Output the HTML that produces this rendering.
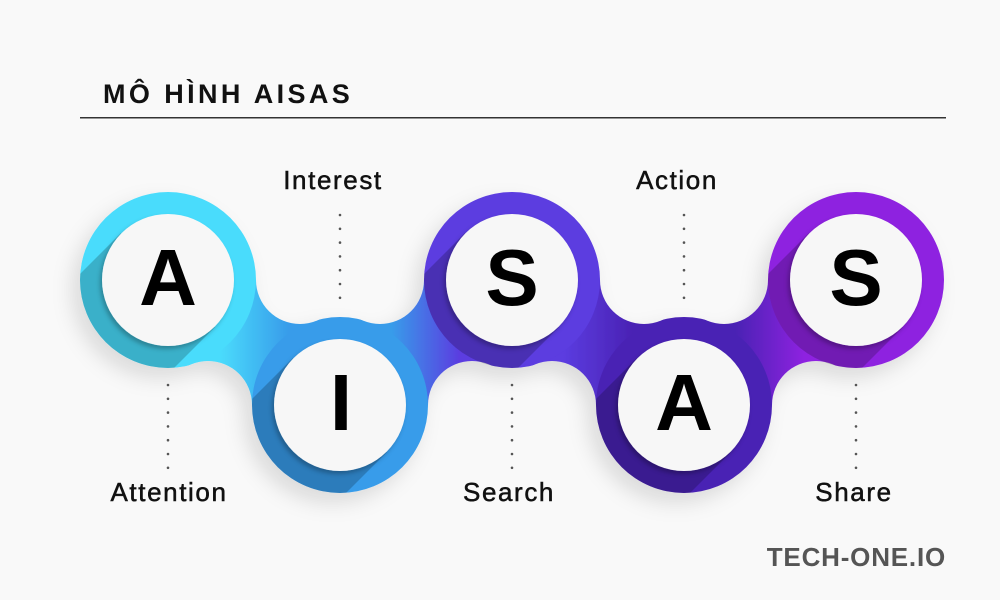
<!DOCTYPE html>
<html><head><meta charset="utf-8"><style>
html,body{margin:0;padding:0;background:#f9f9f9;}
svg{display:block}
</style></head><body>
<svg width="1000" height="600" viewBox="0 0 1000 600" xmlns="http://www.w3.org/2000/svg" font-family="Liberation Sans, sans-serif">
<defs>
<linearGradient id="g1" x1="168" y1="0" x2="340" y2="0" gradientUnits="userSpaceOnUse"><stop offset="0.3" stop-color="#4adcfc"/><stop offset="0.7" stop-color="#389cea"/></linearGradient>
<linearGradient id="g2" x1="340" y1="0" x2="512" y2="0" gradientUnits="userSpaceOnUse"><stop offset="0.3" stop-color="#389cea"/><stop offset="0.7" stop-color="#5b3ce0"/></linearGradient>
<linearGradient id="g3" x1="512" y1="0" x2="684" y2="0" gradientUnits="userSpaceOnUse"><stop offset="0.3" stop-color="#5b3ce0"/><stop offset="0.7" stop-color="#4a22b4"/></linearGradient>
<linearGradient id="g4" x1="684" y1="0" x2="856" y2="0" gradientUnits="userSpaceOnUse"><stop offset="0.3" stop-color="#4a22b4"/><stop offset="0.7" stop-color="#8e24e0"/></linearGradient>
<filter id="ds" x="-30%" y="-30%" width="160%" height="160%"><feDropShadow dx="-2" dy="3" stdDeviation="2" flood-color="#000" flood-opacity="0.25"/></filter>
<filter id="os" x="-30%" y="-30%" width="160%" height="160%"><feDropShadow dx="-8" dy="10" stdDeviation="10" flood-color="#000" flood-opacity="0.12"/></filter>
<mask id="nm" maskUnits="userSpaceOnUse" x="0" y="0" width="1000" height="600">
<rect width="1000" height="600" fill="#fff"/>
<g fill="#000">
<circle cx="300" cy="280" r="44"/><circle cx="208" cy="405" r="44"/>
<circle cx="380" cy="280" r="44"/><circle cx="472" cy="405" r="44"/>
<circle cx="644" cy="280" r="44"/><circle cx="552" cy="405" r="44"/>
<circle cx="724" cy="280" r="44"/><circle cx="816" cy="405" r="44"/>
</g>
</mask>
<clipPath id="c1"><circle cx="168" cy="280" r="88"/></clipPath>
<clipPath id="c2"><circle cx="340" cy="405" r="88"/></clipPath>
<clipPath id="c3"><circle cx="512" cy="280" r="88"/></clipPath>
<clipPath id="c4"><circle cx="684" cy="405" r="88"/></clipPath>
<clipPath id="c5"><circle cx="856" cy="280" r="88"/></clipPath>
</defs>
<rect width="1000" height="600" fill="#f9f9f9"/>
<text x="103" y="103" font-size="27" font-weight="bold" letter-spacing="3.4" fill="#111">MÔ HÌNH AISAS</text>
<rect x="80" y="117" width="866" height="1.5" fill="#333"/>

<g filter="url(#os)">
<g mask="url(#nm)">
<polygon points="168,280 300,280 340,405 208,405" fill="url(#g1)"/>
<polygon points="340,405 380,280 512,280 472,405" fill="url(#g2)"/>
<polygon points="512,280 644,280 684,405 552,405" fill="url(#g3)"/>
<polygon points="684,405 724,280 856,280 816,405" fill="url(#g4)"/>
<circle cx="168" cy="280" r="88" fill="#4adcfc"/>
<circle cx="340" cy="405" r="88" fill="#389cea"/>
<circle cx="512" cy="280" r="88" fill="#5b3ce0"/>
<circle cx="684" cy="405" r="88" fill="#4a22b4"/>
<circle cx="856" cy="280" r="88" fill="#8e24e0"/>
</g>
</g>

<g fill="#000" opacity="0.2">
<polygon clip-path="url(#c1)" points="215,327 121,233 -20,374 74,468"/>
<polygon clip-path="url(#c2)" points="387,452 293,358 152,499 246,593"/>
<polygon clip-path="url(#c3)" points="559,327 465,233 324,374 418,468"/>
<polygon clip-path="url(#c4)" points="731,452 637,358 496,499 590,593"/>
<polygon clip-path="url(#c5)" points="903,327 809,233 668,374 762,468"/>
</g>

<g fill="#f7f7f7" filter="url(#ds)">
<circle cx="168" cy="280" r="66"/>
<circle cx="340" cy="405" r="66"/>
<circle cx="512" cy="280" r="66"/>
<circle cx="684" cy="405" r="66"/>
<circle cx="856" cy="280" r="66"/>
</g>
<g font-size="80" font-weight="bold" fill="#000" text-anchor="middle">
<text x="168" y="305">A</text>
<text x="341" y="430">I</text>
<text x="512" y="305">S</text>
<text x="684" y="430">A</text>
<text x="856" y="305">S</text>
</g>

<g stroke="#555" stroke-width="2.6" stroke-linecap="round" stroke-dasharray="0 13.8">
<line x1="168" y1="385" x2="168" y2="468"/>
<line x1="340" y1="215" x2="340" y2="298"/>
<line x1="512" y1="385" x2="512" y2="468"/>
<line x1="684" y1="215" x2="684" y2="298"/>
<line x1="856" y1="385" x2="856" y2="468"/>
</g>

<g font-size="26" fill="#111" stroke="#111" stroke-width="0.5" letter-spacing="1.6" text-anchor="middle">
<text x="333" y="189">Interest</text>
<text x="677" y="189">Action</text>
<text x="169" y="501">Attention</text>
<text x="509" y="501">Search</text>
<text x="854" y="501">Share</text>
</g>
<text x="946" y="566" font-size="26" font-weight="bold" letter-spacing="0.8" fill="#555" text-anchor="end">TECH-ONE.IO</text>
</svg>
</body></html>
